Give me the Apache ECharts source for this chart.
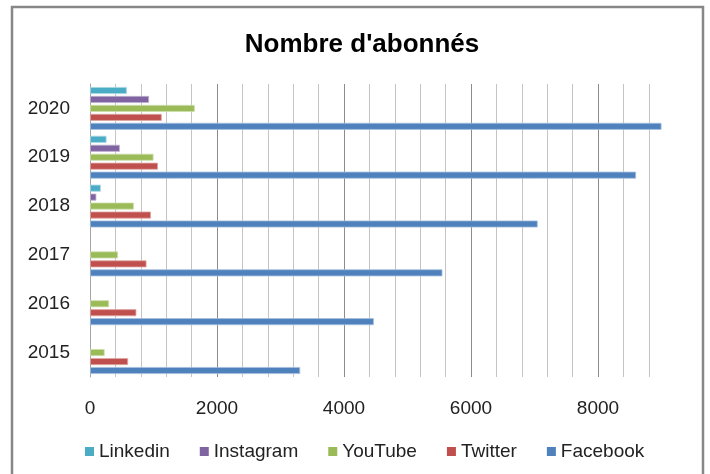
<!DOCTYPE html>
<html>
<head>
<meta charset="utf-8">
<title>Nombre d'abonnés</title>
<script src="https://cdn.jsdelivr.net/npm/echarts@6/dist/echarts.min.js"></script>
<style>
  html, body { margin: 0; padding: 0; background: #fff; }
  #chart { width: 710px; height: 474px; }
</style>
</head>
<body>
<div id="chart"></div>
<script>
// années (axe vertical, du bas vers le haut)
var years = ["2015", "2016", "2017", "2018", "2019", "2020"];

// nombre d'abonnés par réseau et par année
var linkedin = [null, null, null, 170, 260, 580];
var instagram = [null, null, null, 100, 470, 930];
var youtube = [230, 300, 440, 690, 1000, 1650];
var twitter = [600, 730, 890, 960, 1070, 1130];
var facebook = [3310, 4470, 5550, 7050, 8600, 9000];

var legendNames = ["Linkedin", "Instagram", "YouTube", "Twitter", "Facebook"];

var FONT = "'Liberation Sans', Arial, sans-serif";

//construire une série de barres (bord plus clair comme dans Excel)
function makeSeries(name, data, color, edge) {
  return {
    name: name,
    type: "bar",
    data: data,
    barWidth: 7,
    barGap: "28%",
    itemStyle: {
      color: color,
      borderColor: edge,
      borderWidth: 0.8,
    },
  };
}

var chart = echarts.init(document.getElementById("chart"));

var option = {
  animation: false,
  title: {
    text: "Nombre d'abonnés",
    left: 357,
    top: 27,
    textAlign: "center",
    textStyle: {
      fontFamily: FONT,
      fontWeight: "bold",
      fontSize: 26,
      color: "#000",
    },
  },
  legend: {
    data: legendNames,
    left: 80,
    top: 437,
    icon: "rect",
    itemWidth: 9,
    itemHeight: 9,
    itemGap: 30,
    itemStyle: { borderWidth: 0 },
    textStyle: { fontFamily: FONT, fontSize: 19, color: "#222" },
  },
  grid: { left: 90, right: 48.5, top: 84, bottom: 97, containLabel: false },
  xAxis: {
    type: "value",
    min: 0,
    max: 9000,
    interval: 400,
    axisLine: { show: false },
    axisTick: { show: false },
    axisLabel: {
      margin: 22,
      fontFamily: FONT,
      fontSize: 19,
      color: "#222",
      showMaxLabel: false,
      formatter: function (v) {
        return v % 2000 === 0 ? String(v) : "";
      },
    },
    splitLine: {
      show: true,
      showMaxLine: false,
      lineStyle: {
        color: ["#8c8c8c", "#c4c4c4", "#c4c4c4", "#c4c4c4", "#c4c4c4"],
        width: 1,
      },
    },
  },
  yAxis: {
    type: "category",
    data: years,
    axisLine: { show: true, lineStyle: { color: "#a6a6a6", width: 1 } },
    axisTick: { show: false },
    axisLabel: {
      margin: 20,
      fontFamily: FONT,
      fontSize: 19,
      color: "#222",
    },
  },
  series: [
    makeSeries("Linkedin", linkedin, "#4BACC6", "#a9d6e3"),
    makeSeries("Instagram", instagram, "#8064A2", "#bfb1d0"),
    makeSeries("YouTube", youtube, "#9BBB59", "#cddeac"),
    makeSeries("Twitter", twitter, "#C0504D", "#e0a8a6"),
    makeSeries("Facebook", facebook, "#4F81BD", "#a7c0de"),
  ],
  graphic: [
    {
      type: "rect",
      shape: { x: 12, y: 7, width: 691, height: 480 },
      style: { fill: "none", stroke: "#878787", lineWidth: 2.5 },
      silent: true,
    },
  ],
};

chart.setOption(option);
</script>
</body>
</html>
